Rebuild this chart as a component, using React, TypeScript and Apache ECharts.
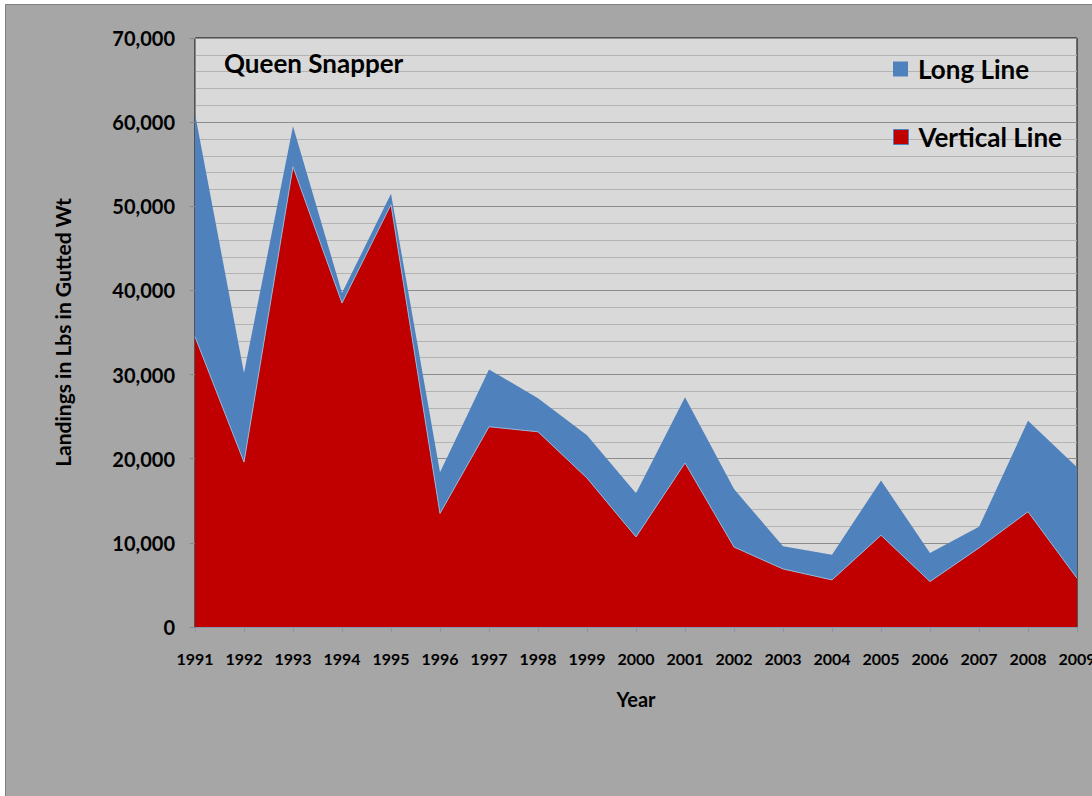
import React, { useEffect, useRef } from "react";
import * as echarts from "echarts";

const years = ["1991","1992","1993","1994","1995","1996","1997","1998","1999","2000","2001","2002","2003","2004","2005","2006","2007","2008","2009"];
const verticalLine = [34500,19600,54700,38500,50200,13500,23800,23200,17700,10700,19500,9500,6900,5600,10900,5400,9400,13700,5800];
const longLine = [26500,10600,4800,1200,1300,4900,6800,4000,5100,5200,7800,6900,2700,3000,6500,3400,2500,10800,13200];
const yTicks = { min: 0, max: 70000, interval: 10000 };

const FONT = "Lato";

export default function App() {
  const ref = useRef<HTMLDivElement>(null);
  useEffect(() => {
    if (!ref.current) return;
    const chart = echarts.init(ref.current, null, { renderer: "svg" });
    chart.setOption({
      animation: false,
      backgroundColor: "#ffffff",
      textStyle: { fontFamily: FONT },
      graphic: [
        {
          type: "rect",
          z: -100,
          shape: { x: 5.5, y: 4.5, width: 1100, height: 800 },
          style: { fill: "#a6a6a6", stroke: "#7f7f7f", lineWidth: 1 },
        },
      ],
      title: {
        text: "Queen Snapper",
        left: 219,
        top: 45,
        textStyle: { fontFamily: FONT, fontWeight: "bold", fontSize: 26, color: "#000" },
      },
      legend: [
        {
          data: ["Long Line"],
          left: 888,
          top: 51,
          icon: "rect",
          itemWidth: 15,
          itemHeight: 15,
          itemGap: 10,
          textStyle: { fontFamily: FONT, fontWeight: "bold", fontSize: 26, color: "#000", padding: [0, 0, 0, 5] },
        },
        {
          data: ["Vertical Line"],
          left: 888,
          top: 119,
          icon: "rect",
          itemWidth: 15,
          itemHeight: 15,
          itemGap: 10,
          itemStyle: { borderColor: "#4f81bd", borderWidth: 1 },
          textStyle: { fontFamily: FONT, fontWeight: "bold", fontSize: 26, color: "#000", padding: [0, 0, 0, 5] },
        },
      ],
      grid: {
        left: 195,
        top: 38,
        right: 15,
        bottom: 169,
        outerBoundsMode: "none",
        containLabel: false,
        show: true,
        backgroundColor: "#d9d9d9",
        borderColor: "#000",
        borderWidth: 1,
      },
      xAxis: {
        type: "category",
        data: years,
        boundaryGap: false,
        name: "Year",
        nameLocation: "middle",
        nameGap: 62,
        nameTextStyle: { fontFamily: FONT, fontWeight: "bold", fontSize: 20, color: "#000" },
        axisLine: { lineStyle: { color: "#8497b0", width: 1 } },
        axisTick: { show: true, interval: 0, length: 5, lineStyle: { color: "#8497b0" } },
        axisLabel: { interval: 0, margin: 23, fontFamily: FONT, fontWeight: "bold", fontSize: 16, color: "#000", hideOverlap: false },
        splitLine: { show: false },
      },
      yAxis: {
        type: "value",
        min: yTicks.min,
        max: yTicks.max,
        interval: yTicks.interval,
        name: "Landings in Lbs in Gutted Wt",
        nameLocation: "middle",
        nameGap: 122,
        nameRotate: 90,
        nameTextStyle: { fontFamily: FONT, fontWeight: "bold", fontSize: 21, color: "#000" },
        axisLine: { show: true, lineStyle: { color: "#868686" } },
        axisTick: { show: true, length: 5, lineStyle: { color: "#868686" } },
        axisLabel: {
          margin: 20,
          fontFamily: FONT,
          fontWeight: "bold",
          fontSize: 20,
          color: "#000",
          formatter: (v: number) => v.toLocaleString("en-US"),
        },
        splitLine: { show: true, lineStyle: { color: "#8c8c8c", width: 1 } },
        minorTick: { show: false, splitNumber: 5 },
        minorSplitLine: { show: true, lineStyle: { color: "#b3b3b3", width: 1 } },
      },
      series: [
        {
          name: "Vertical Line",
          type: "line",
          stack: "total",
          data: verticalLine,
          symbol: "none",
          color: "#c00000",
          lineStyle: { color: "#95b3d7", width: 1 },
          areaStyle: { color: "#c00000", opacity: 1 },
          itemStyle: { color: "#c00000" },
        },
        {
          name: "Long Line",
          type: "line",
          stack: "total",
          data: longLine,
          symbol: "none",
          color: "#4f81bd",
          lineStyle: { color: "#4f81bd", width: 0 },
          areaStyle: { color: "#4f81bd", opacity: 1 },
          itemStyle: { color: "#4f81bd" },
        },
      ],
    });
    return () => chart.dispose();
  }, []);
  return (
    <div
      ref={ref}
      style={{ position: "fixed", left: 0, top: 0, width: 1092, height: 796 }}
    />
  );
}
